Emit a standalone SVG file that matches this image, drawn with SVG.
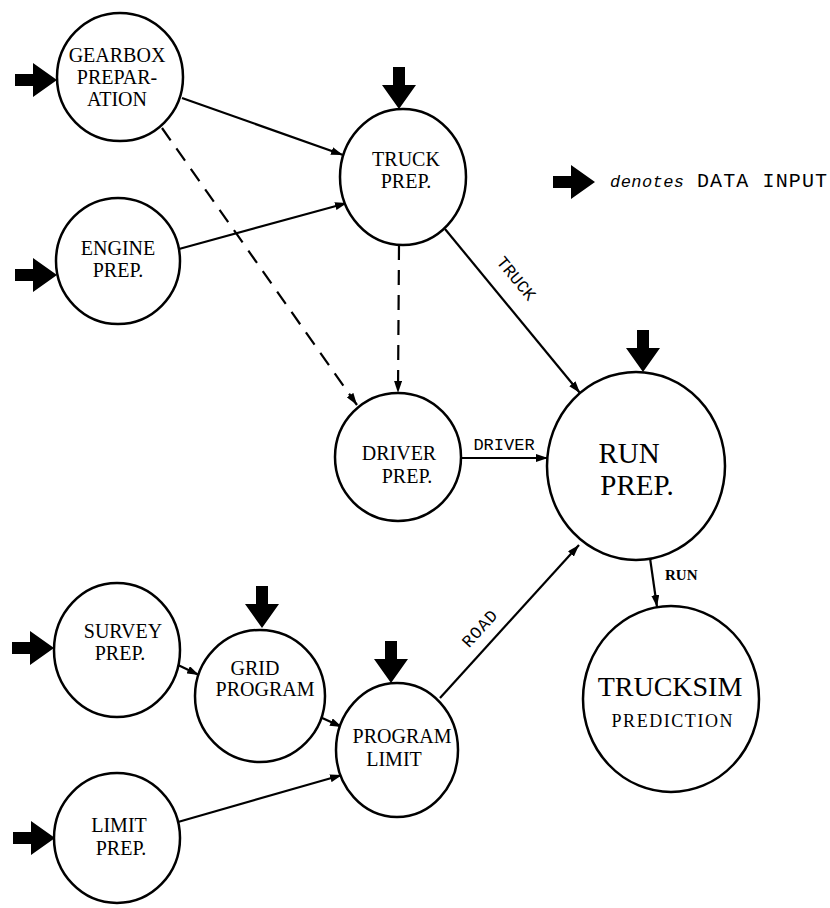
<svg xmlns="http://www.w3.org/2000/svg" width="830" height="908" viewBox="0 0 830 908">
<style>
.node{fill:#fff;stroke:#000;stroke-width:2.5}
.lbl{font-family:"Liberation Serif",serif;font-size:20px;fill:#000;text-anchor:middle}
.big{font-size:29px}
.con{fill:none;stroke:#000;stroke-width:2.2}
.dash{stroke-dasharray:15 10}
.elbl{font-family:"Liberation Mono",monospace;font-size:17px;fill:#000;text-anchor:middle}
</style>
<defs>
<marker id="ah" viewBox="0 0 12 8" refX="12" refY="4" markerWidth="12" markerHeight="8" markerUnits="userSpaceOnUse" orient="auto">
<path d="M0,0 L12,4 L0,8 Z" fill="#000"/>
</marker>
<path id="din" d="M-42,-6 L-24,-6 L-24,-17 L0,0 L-24,17 L-24,6 L-42,6 Z" fill="#000"/>
</defs>
<rect width="830" height="908" fill="#fff"/>

<g id="connectors">
<line class="con" x1="182" y1="98" x2="343" y2="155" marker-end="url(#ah)"/>
<line class="con" x1="179" y1="249" x2="347" y2="203" marker-end="url(#ah)"/>
<line class="con dash" x1="162" y1="128" x2="357" y2="405" marker-end="url(#ah)"/>
<line class="con dash" x1="399" y1="245" x2="398" y2="393" marker-end="url(#ah)"/>
<line class="con" x1="445" y1="229" x2="580" y2="393" marker-end="url(#ah)"/>
<line class="con" x1="462" y1="458" x2="548" y2="458" marker-end="url(#ah)"/>
<line class="con" x1="440" y1="698" x2="579" y2="545" marker-end="url(#ah)"/>
<line class="con" x1="650" y1="558" x2="657" y2="607" marker-end="url(#ah)"/>
<line class="con" x1="178" y1="665" x2="199" y2="675" marker-end="url(#ah)"/>
<line class="con" x1="320" y1="717" x2="342" y2="727" marker-end="url(#ah)"/>
<line class="con" x1="178" y1="822" x2="342" y2="775" marker-end="url(#ah)"/>
<text class="elbl" transform="translate(512,282) rotate(50.5)">TRUCK</text>
<text class="elbl" x="504" y="450">DRIVER</text>
<text class="elbl" transform="translate(484,632) rotate(-47.7)" letter-spacing="1">ROAD</text>
<text x="665" y="580" font-family="Liberation Serif,serif" font-size="15" font-weight="bold">RUN</text>
</g>

<g id="inputs">
<use href="#din" transform="translate(57,80)"/>
<use href="#din" transform="translate(57,275)"/>
<use href="#din" transform="translate(399,109) rotate(90)"/>
<use href="#din" transform="translate(643,372) rotate(90)"/>
<use href="#din" transform="translate(54,648)"/>
<use href="#din" transform="translate(262,628) rotate(90)"/>
<use href="#din" transform="translate(391,683) rotate(90)"/>
<use href="#din" transform="translate(55,838)"/>
</g>

<g id="legend">
<use href="#din" transform="translate(595,182)"/>
<text x="610" y="187" font-family="Liberation Mono,monospace" font-style="italic" font-size="17" textLength="74">denotes</text>
<text x="697" y="187" font-family="Liberation Mono,monospace" font-size="20" textLength="130">DATA INPUT</text>
</g>

<g id="gearbox">
<ellipse class="node" cx="120" cy="77" rx="63" ry="64"/>
<text class="lbl" x="117" y="62">GEARBOX</text>
<text class="lbl" x="117" y="84">PREPAR-</text>
<text class="lbl" x="117" y="106">ATION</text>
</g>
<g id="engine">
<ellipse class="node" cx="118" cy="261" rx="62" ry="63"/>
<text class="lbl" x="118" y="255">ENGINE</text>
<text class="lbl" x="118" y="277">PREP.</text>
</g>
<g id="truck">
<ellipse class="node" cx="403" cy="177" rx="63" ry="68"/>
<text class="lbl" x="406" y="166">TRUCK</text>
<text class="lbl" x="406" y="188">PREP.</text>
</g>
<g id="driver">
<ellipse class="node" cx="398" cy="457" rx="63" ry="64"/>
<text class="lbl" x="399" y="460">DRIVER</text>
<text class="lbl" x="407" y="483">PREP.</text>
</g>
<g id="run">
<ellipse class="node" cx="636" cy="466" rx="89" ry="94"/>
<text class="lbl big" x="629" y="463">RUN</text>
<text class="lbl big" x="637" y="495">PREP.</text>
</g>
<g id="trucksim">
<ellipse class="node" cx="671" cy="699" rx="88" ry="93"/>
<text class="lbl big" x="670" y="696" style="font-size:28px">TRUCKSIM</text>
<text class="lbl" x="672" y="727" style="font-size:18px" textLength="121">PREDICTION</text>
</g>
<g id="survey">
<ellipse class="node" cx="117" cy="650" rx="63" ry="67"/>
<text class="lbl" x="123" y="638">SURVEY</text>
<text class="lbl" x="120" y="660">PREP.</text>
</g>
<g id="grid">
<ellipse class="node" cx="260" cy="696" rx="65" ry="66"/>
<text class="lbl" x="255" y="675">GRID</text>
<text class="lbl" x="265" y="696">PROGRAM</text>
</g>
<g id="programlimit">
<ellipse class="node" cx="397" cy="750" rx="61" ry="67"/>
<text class="lbl" x="402" y="743">PROGRAM</text>
<text class="lbl" x="394" y="766">LIMIT</text>
</g>
<g id="limit">
<ellipse class="node" cx="117" cy="838" rx="63" ry="65"/>
<text class="lbl" x="119" y="832">LIMIT</text>
<text class="lbl" x="121" y="855">PREP.</text>
</g>
</svg>
